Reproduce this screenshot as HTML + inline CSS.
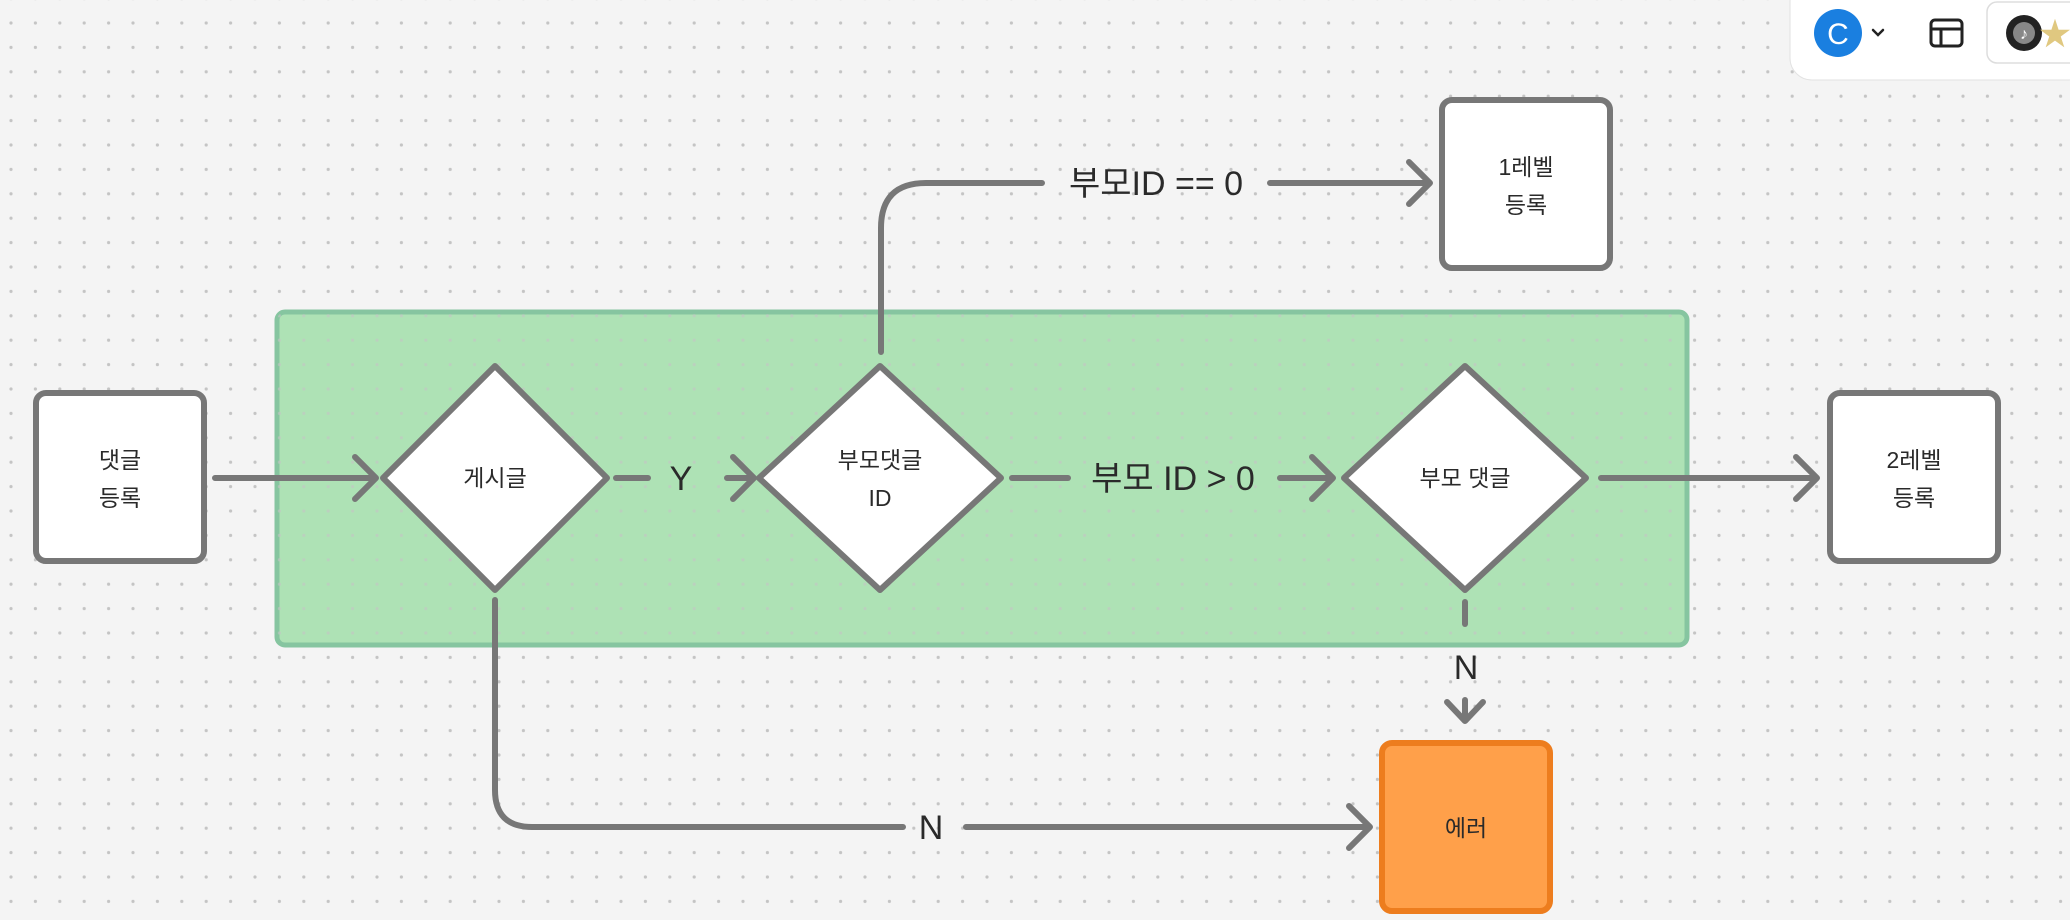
<!DOCTYPE html>
<html><head><meta charset="utf-8"><style>
html,body{margin:0;padding:0;width:2070px;height:920px;overflow:hidden;background:#f4f4f4}
svg{display:block}
text{font-family:"Liberation Sans","Noto Sans CJK KR",sans-serif;fill:#2a2a2a}
</style></head><body>
<svg width="2070" height="920" viewBox="0 0 2070 920" xmlns="http://www.w3.org/2000/svg">
<defs>
<pattern id="dots" x="11" y="389" width="24.4" height="24.4" patternUnits="userSpaceOnUse">
<circle cx="0" cy="0" r="1.6" fill="#c4c4c4"/>
<circle cx="24.4" cy="0" r="1.6" fill="#c4c4c4"/>
<circle cx="0" cy="24.4" r="1.6" fill="#c4c4c4"/>
<circle cx="24.4" cy="24.4" r="1.6" fill="#c4c4c4"/>
</pattern>
</defs>
<rect width="2070" height="920" fill="#f4f4f4"/>
<rect width="2070" height="920" fill="url(#dots)"/>
<!-- green group -->
<rect x="277" y="312" width="1410" height="333" rx="8" fill="#aee2b5" stroke="#86c5a0" stroke-width="5"/>
<rect x="277" y="312" width="1410" height="333" rx="8" fill="url(#dots)" opacity="0.6"/>

<g fill="none" stroke="#777" stroke-width="6" stroke-linecap="round" stroke-linejoin="round">
<!-- 댓글등록 -> 게시글 -->
<path d="M215 478 H375 M355 457 L376 478 L355 499"/>
<!-- Y -->
<path d="M616 478 H648"/>
<path d="M727 478 H752 M733 457 L754 478 L733 499"/>
<!-- 부모 ID > 0 -->
<path d="M1012 478 H1068"/>
<path d="M1280 478 H1330 M1312 457 L1333 478 L1312 499"/>
<!-- to 2레벨 -->
<path d="M1601 478 H1815 M1796 457 L1817 478 L1796 499"/>
<!-- up to 1레벨 -->
<path d="M881 352 V228 Q881 183 926 183 H1042"/>
<path d="M1270 183 H1428 M1409 162 L1430 183 L1409 204"/>
<!-- down from 게시글 -->
<path d="M495 600 V790 Q495 827 532 827 H903"/>
<path d="M966 827 H1368 M1349 806 L1370 827 L1349 848"/>
<!-- 부모댓글 down -->
<path d="M1465 602 V624"/>
<path d="M1447 702 L1465 721 L1483 702 M1465 700 V721"/>
</g>

<!-- boxes -->
<g stroke="#777" stroke-width="6" fill="#fff">
<rect x="36" y="393" width="168" height="168" rx="10"/>
<rect x="1442" y="100" width="168" height="168" rx="10"/>
<rect x="1830" y="393" width="168" height="168" rx="10"/>
<polygon points="495,366 607,478 495,590 383,478" stroke-linejoin="round"/>
<polygon points="880,366 1001,478 880,590 759,478" stroke-linejoin="round"/>
<polygon points="1465,366 1586,478 1465,590 1344,478" stroke-linejoin="round"/>
</g>
<rect x="1382" y="743" width="168" height="168" rx="10" fill="#ffa04a" stroke="#ed7d1e" stroke-width="6"/>

<!-- node text -->
<g font-size="23" text-anchor="middle">
<text x="120" y="468">댓글</text>
<text x="120" y="506">등록</text>
<text x="1526" y="175">1레벨</text>
<text x="1526" y="213">등록</text>
<text x="1914" y="468">2레벨</text>
<text x="1914" y="506">등록</text>
<text x="495" y="486">게시글</text>
<text x="880" y="468">부모댓글</text>
<text x="880" y="506">ID</text>
<text x="1465" y="486">부모 댓글</text>
<text x="1466" y="836">에러</text>
</g>
<!-- connector labels -->
<g font-size="34" text-anchor="middle">
<text x="681" y="490">Y</text>
<text x="1173" y="490">부모 ID &gt; 0</text>
<text x="1156" y="195">부모ID == 0</text>
<text x="931" y="839">N</text>
<text x="1466" y="679">N</text>
</g>

<!-- toolbar -->
<rect x="1790" y="-20" width="300" height="100" rx="22" fill="#fff" stroke="#e2e2e2" stroke-width="1"/>
<circle cx="1838" cy="33" r="24" fill="#1a7fe0"/>
<text x="1838" y="44" font-size="30" text-anchor="middle" style="fill:#fff">C</text>
<path d="M1873 30 L1878 35 L1883 30" fill="none" stroke="#222" stroke-width="2.5" stroke-linecap="round"/>
<g fill="none" stroke="#222" stroke-width="3">
<rect x="1931" y="20" width="31" height="26" rx="4"/>
<path d="M1931 29 H1962 M1941 29 V46"/>
</g>
<rect x="1987" y="2" width="100" height="61" rx="10" fill="#fff" stroke="#ddd" stroke-width="1.5"/>
<circle cx="2024" cy="33" r="18" fill="#222"/>
<circle cx="2024" cy="33" r="11" fill="#888"/>
<text x="2024" y="39" font-size="16" text-anchor="middle" style="fill:#fff">♪</text>
<text x="2055" y="45" font-size="32" text-anchor="middle" style="fill:#e0c880">★</text>
</svg>
</body></html>
